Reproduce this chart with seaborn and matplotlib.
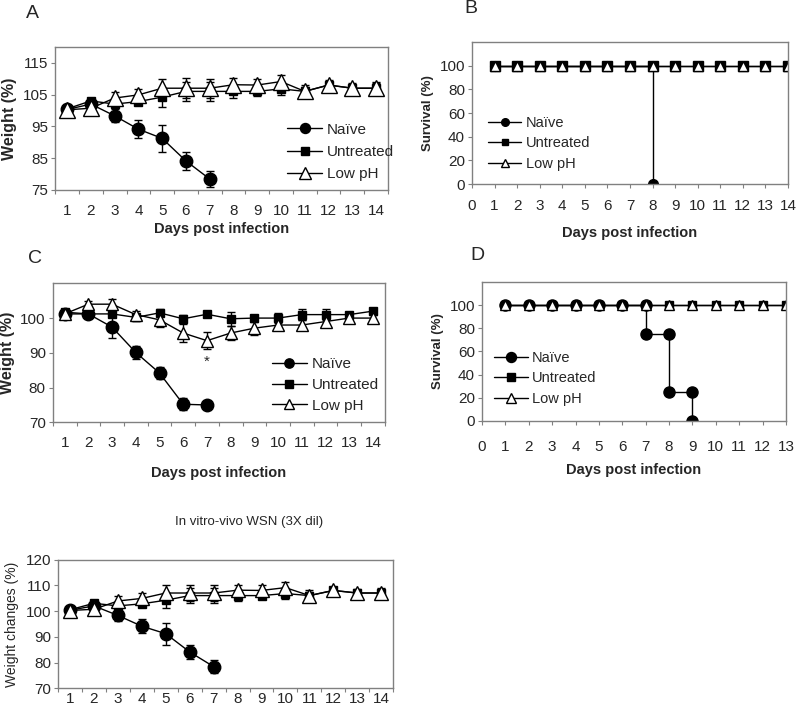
import matplotlib
matplotlib.use("Agg")
import matplotlib.pyplot as plt
from matplotlib.lines import Line2D
import numpy as np
import seaborn as sns

sns.set_style("ticks")
plt.rcParams['font.family'] = ['Liberation Sans', 'DejaVu Sans']

groups = ['Naïve', 'Untreated', 'Low pH']
days = list(range(1, 15))

# panel A (and the bottom "In vitro-vivo" panel): weight (%)
naive_w = [100.3, 102.0, 98.3, 94.1, 91.2, 84.1, 78.4]
naive_w_err = [1.0, 1.0, 2.0, 2.8, 4.3, 2.8, 2.5]
untreated_w = [100.5, 103.0, 102.0, 102.8, 104.2, 106.0, 106.0, 106.0, 106.0, 106.8, 106.0, 108.0, 107.0, 107.0]
untreated_w_err = [0.5, 1.0, 1.0, 1.0, 3.0, 3.0, 3.0, 2.0, 1.5, 2.0, 1.5, 1.0, 1.0, 1.5]
lowph_w = [100.2, 100.7, 103.9, 104.9, 107.0, 107.0, 107.0, 108.1, 108.0, 109.1, 106.0, 108.0, 107.0, 107.0]
lowph_w_err = [1.0, 1.0, 2.0, 2.0, 3.0, 3.2, 3.0, 2.0, 2.0, 2.2, 2.0, 1.5, 1.5, 2.0]

# panel C: weight (%)
naive_c = [101.2, 101.2, 97.4, 90.1, 84.2, 75.2, 75.0]
naive_c_err = [1.0, 1.0, 3.0, 2.0, 1.7, 1.7, 0.0]
untreated_c = [101.7, 101.2, 101.2, 100.2, 101.5, 99.8, 101.1, 99.8, 100.0, 100.0, 101.0, 101.0, 101.0, 102.0]
untreated_c_err = [1.0, 1.0, 1.0, 1.0, 1.0, 1.0, 0.5, 2.0, 1.0, 1.5, 1.5, 1.5, 0.5, 1.0]
lowph_c = [101.2, 104.0, 104.0, 101.0, 99.5, 95.7, 93.5, 95.7, 97.1, 98.0, 98.0, 99.0, 100.0, 100.0]
lowph_c_err = [1.0, 1.0, 1.5, 1.0, 2.0, 2.5, 2.5, 2.0, 2.0, 1.5, 1.5, 1.5, 1.0, 1.5]

# panel B: survival (%)
naive_b_days = [1, 2, 3, 4, 5, 6, 7, 8, 8]
naive_b = [100, 100, 100, 100, 100, 100, 100, 100, 0]
all_b = [100] * 14

# panel D: survival (%)
days_d = list(range(1, 14))
naive_d_days = [1, 2, 3, 4, 5, 6, 7, 7, 8, 8, 9, 9]
naive_d = [100, 100, 100, 100, 100, 100, 100, 75, 75, 25, 25, 0]
all_d = [100] * 13

EDGE = '#808080'
MARKERS = ['o', 's', '^']
FACES = ['black', 'black', 'white']


def draw_series(ax, x, y, err, marker, ms, face):
    if err is not None:
        ax.errorbar(x, y, yerr=err, fmt='none', ecolor='black', elinewidth=1,
                    capsize=3, capthick=1, zorder=1.5)
    sns.lineplot(x=x, y=y, ax=ax, color='black', linewidth=1, marker=marker,
                 markersize=ms, markerfacecolor=face, markeredgecolor='black',
                 markeredgewidth=1, estimator=None, sort=False, legend=False)


def style_box(ax):
    for s in ax.spines.values():
        s.set_visible(True)
        s.set_color(EDGE)
        s.set_linewidth(1)
    ax.tick_params(axis='y', direction='out', length=3, color=EDGE, labelsize=11, pad=2)


def cat_xaxis(ax, pad=10):
    ax.set_xlim(0.5, 14.5)
    ax.set_xticks(np.arange(0.5, 15, 1))
    ax.set_xticklabels([])
    ax.set_xticks(days, minor=True)
    ax.set_xticklabels([str(d) for d in days], minor=True)
    ax.tick_params(axis='x', which='major', direction='out', length=3, color=EDGE)
    ax.tick_params(axis='x', which='minor', length=0, pad=pad, labelsize=11)


def add_legend(ax, x, y, size, msizes, spacing=0.45):
    handles = [Line2D([], [], color='black', linewidth=1, marker=m, markersize=ms,
                      markerfacecolor=f, markeredgecolor='black', markeredgewidth=1)
               for m, ms, f in zip(MARKERS, msizes, FACES)]
    ax.legend(handles, groups, loc='upper left', bbox_to_anchor=(x, y), frameon=False,
              borderpad=0, borderaxespad=0, handlelength=2.3, handletextpad=0.3,
              labelspacing=spacing, fontsize=size, numpoints=1)


fig = plt.figure(figsize=(8, 7.11), dpi=100)

# ---- A ----
axA = fig.add_axes([0.069, 0.733, 0.416, 0.201])
draw_series(axA, days[:7], naive_w, naive_w_err, 'o', 9, 'black')
draw_series(axA, days, untreated_w, untreated_w_err, 's', 6, 'black')
draw_series(axA, days, lowph_w, lowph_w_err, '^', 11, 'white')
style_box(axA)
cat_xaxis(axA)
axA.set_ylim(75, 120)
axA.set_yticks([75, 85, 95, 105, 115])
axA.set_ylabel('Weight (%)', fontsize=11.5, fontweight='bold', labelpad=4)
axA.set_xlabel('Days post infection', fontsize=10.5, fontweight='bold', labelpad=3)
add_legend(axA, 0.697, 0.47, 11, [7.2, 5.8, 8.6], spacing=0.55)

# ---- B ----
axB = fig.add_axes([0.59, 0.741, 0.395, 0.2])
draw_series(axB, naive_b_days, naive_b, None, 'o', 7, 'black')
draw_series(axB, days, all_b, None, 's', 7, 'black')
draw_series(axB, days, all_b, None, '^', 7.5, 'white')
style_box(axB)
axB.set_xlim(0, 14)
axB.set_xticks(range(0, 15))
axB.tick_params(axis='x', direction='out', length=3, color=EDGE, labelsize=11, pad=8)
axB.set_ylim(0, 120)
axB.set_yticks(range(0, 101, 20))
axB.set_ylabel('Survival (%)', fontsize=9.5, fontweight='bold', labelpad=4)
axB.set_xlabel('Days post infection', fontsize=10.5, fontweight='bold', labelpad=9)
add_legend(axB, 0.05, 0.48, 10.5, [5.5, 4.5, 6.0])

# ---- C ----
axC = fig.add_axes([0.066, 0.406, 0.415, 0.1955])
draw_series(axC, days[:7], naive_c, naive_c_err, 'o', 9, 'black')
draw_series(axC, days, untreated_c, untreated_c_err, 's', 6, 'black')
draw_series(axC, days, lowph_c, lowph_c_err, '^', 9, 'white')
style_box(axC)
cat_xaxis(axC)
axC.set_ylim(70, 110)
axC.set_yticks([70, 80, 90, 100])
axC.set_ylabel('Weight (%)', fontsize=11.5, fontweight='bold', labelpad=4)
axC.set_xlabel('Days post infection', fontsize=10.5, fontweight='bold', labelpad=11)
axC.text(7, 87.5, '*', ha='center', va='center', fontsize=11)
add_legend(axC, 0.66, 0.47, 11, [6.7, 5.8, 7.2])

# ---- D ----
axD = fig.add_axes([0.6025, 0.408, 0.38, 0.1955])
draw_series(axD, naive_d_days, naive_d, None, 'o', 8, 'black')
draw_series(axD, days_d, all_d, None, 's', 6, 'black')
draw_series(axD, days_d, all_d, None, '^', 7, 'white')
style_box(axD)
axD.set_xlim(0, 13)
axD.set_xticks(range(0, 14))
axD.tick_params(axis='x', direction='out', length=3, color=EDGE, labelsize=11, pad=11)
axD.set_ylim(0, 120)
axD.set_yticks(range(0, 101, 20))
axD.set_ylabel('Survival (%)', fontsize=9.5, fontweight='bold', labelpad=4)
axD.set_xlabel('Days post infection', fontsize=10.5, fontweight='bold', labelpad=6)
add_legend(axD, 0.04, 0.505, 10.5, [7.2, 5.3, 6.7])

# ---- bottom panel ----
axE = fig.add_axes([0.0725, 0.032, 0.419, 0.181])
draw_series(axE, days[:7], naive_w, naive_w_err, 'o', 9, 'black')
draw_series(axE, days, untreated_w, untreated_w_err, 's', 6, 'black')
draw_series(axE, days, lowph_w, lowph_w_err, '^', 10, 'white')
style_box(axE)
cat_xaxis(axE, pad=3)
axE.set_ylim(70, 120)
axE.set_yticks(range(70, 121, 10))
axE.set_ylabel('Weight changes (%)', fontsize=10, labelpad=5)

# panel letters and title
fig.text(0.04, 0.981, 'A', fontsize=14, ha='center', va='center')
fig.text(0.588, 0.988, 'B', fontsize=14, ha='center', va='center')
fig.text(0.044, 0.637, 'C', fontsize=14, ha='center', va='center')
fig.text(0.597, 0.641, 'D', fontsize=14, ha='center', va='center')
fig.text(0.311, 0.266, 'In vitro-vivo WSN (3X dil)', fontsize=9.5, ha='center', va='center')

fig.savefig('out.png', dpi=100)
